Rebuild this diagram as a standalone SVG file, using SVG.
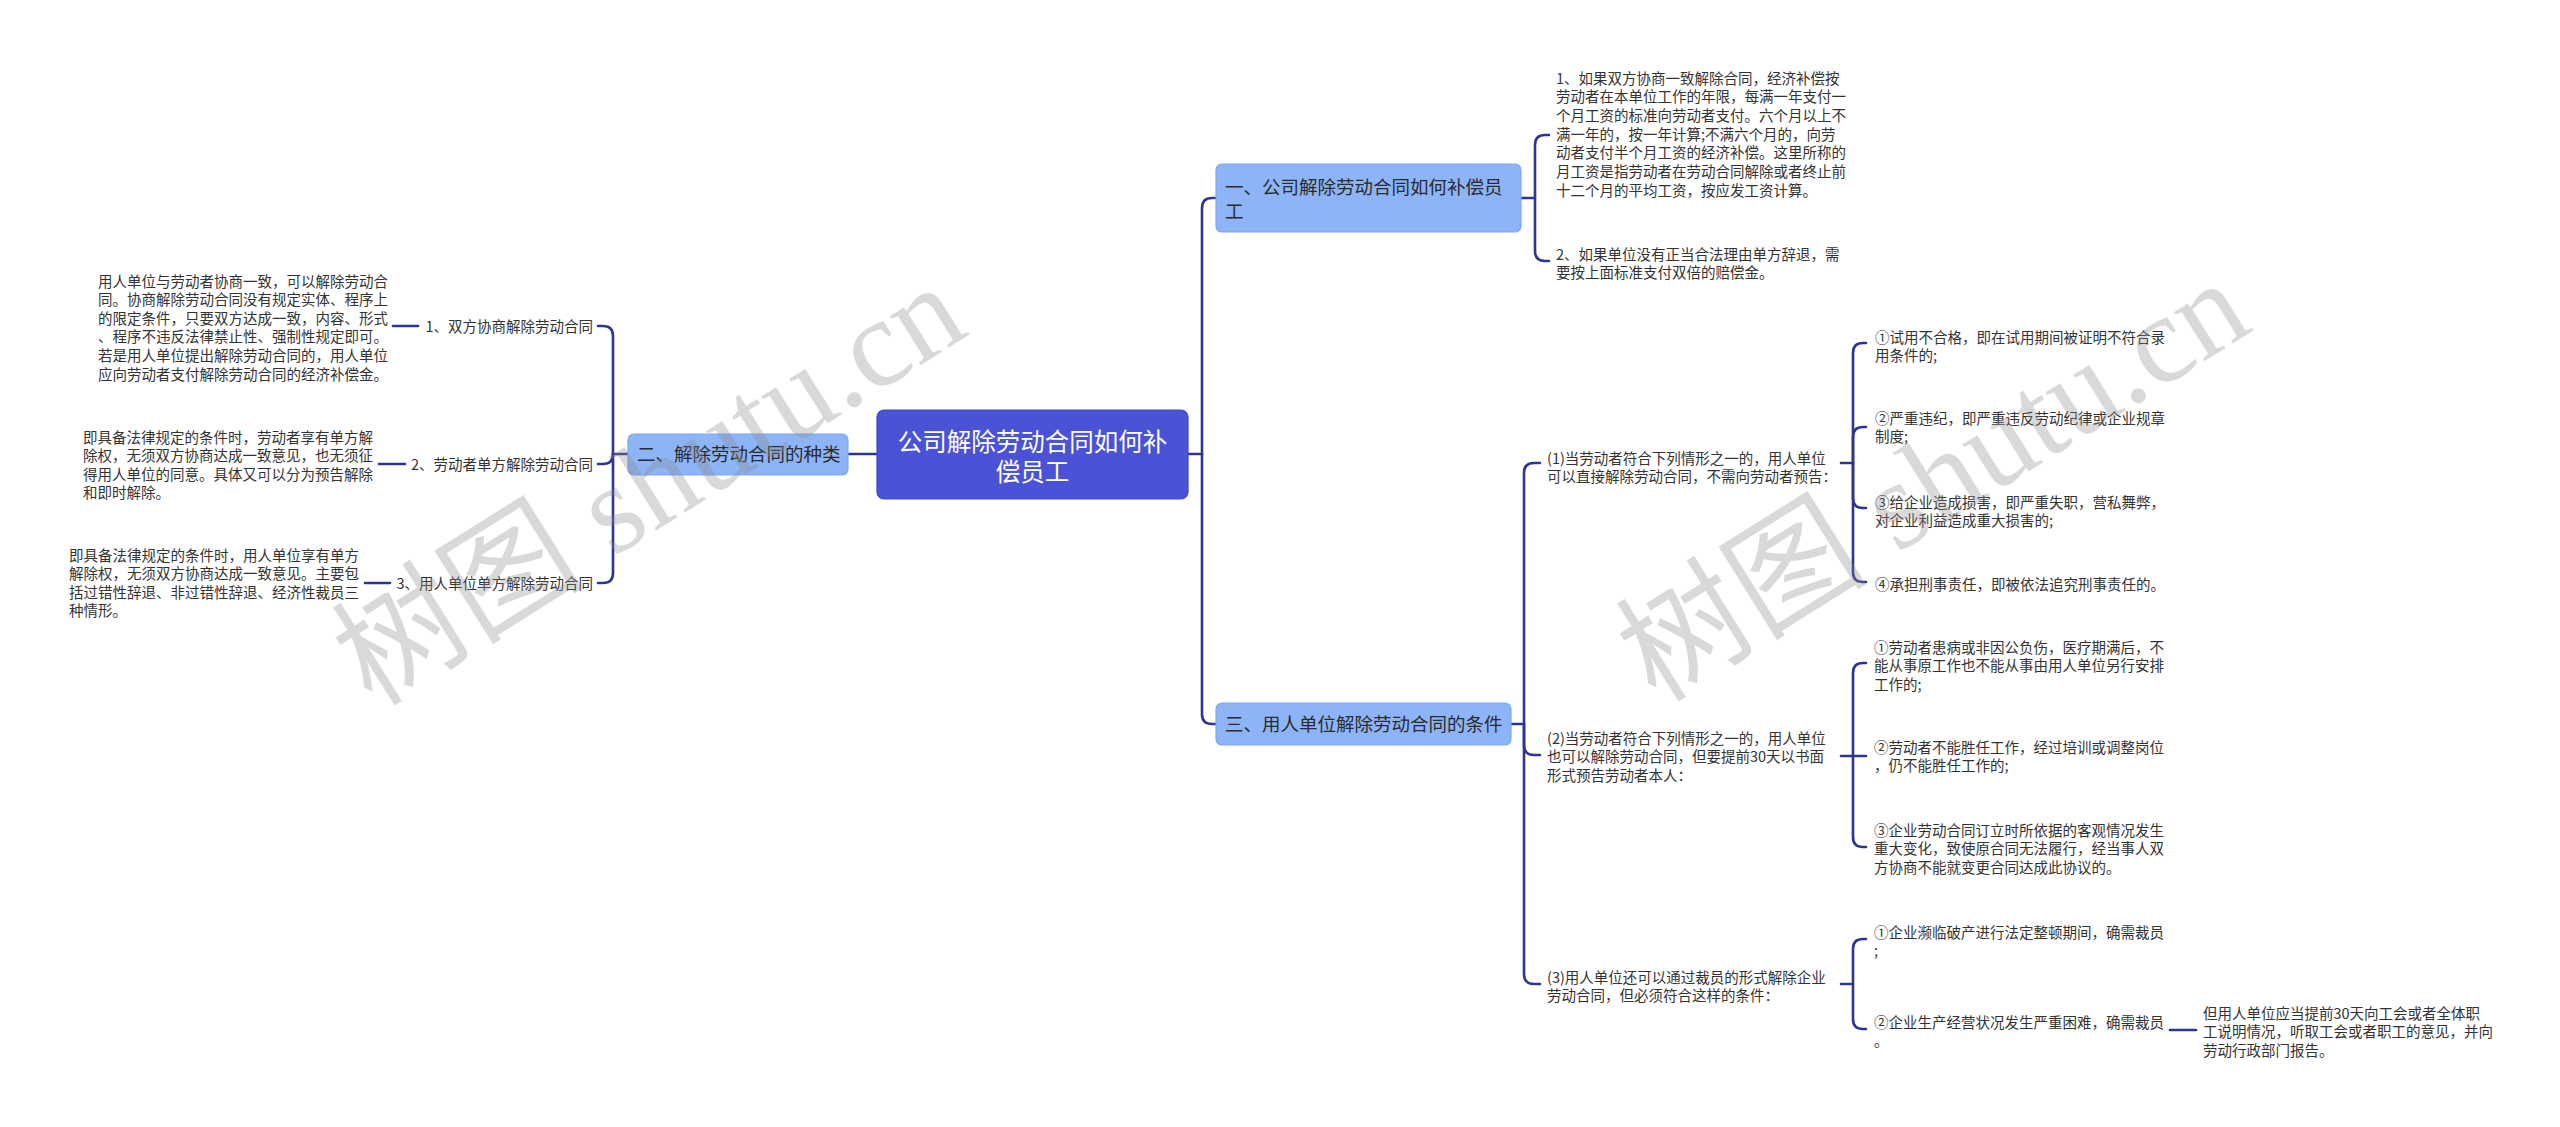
<svg xmlns="http://www.w3.org/2000/svg" width="2560" height="1127" viewBox="0 0 2560 1127">
<defs>
<style>
.bg{fill:#ffffff}
.ln{fill:none;stroke:#2e3590;stroke-width:2.6;stroke-linecap:round;stroke-linejoin:round}
.t{font-family:"Noto Sans CJK SC","Noto Sans",sans-serif;font-size:14.5px;fill:#333333}
.n1{fill:#8cb4f7;stroke:#7ea8ee;stroke-width:1.2}
.n1t{font-family:"Noto Sans CJK SC","Noto Sans",sans-serif;font-size:18.5px;fill:#2b2b2b}
.root{fill:#4a52d6;stroke:#3f47c4;stroke-width:1.2}
.roott{font-family:"Noto Sans CJK SC","Noto Sans",sans-serif;font-size:24.5px;fill:#ffffff}
.wm{font-family:"Liberation Serif","Noto Sans CJK SC",serif;font-size:126px;fill:#8c8c8c;fill-opacity:0.33}
.wmc{font-family:"Noto Sans CJK SC",sans-serif}
</style>
</defs>
<rect class="bg" x="0" y="0" width="2560" height="1127"/>

<g id="connectors">
  <path class="ln" d="M877,454 H848"/>
  <path class="ln" d="M628,454 H613 V336 Q613,326 603,326 H598"/>
  <path class="ln" d="M613,454 Q613,464 603,464 H598"/>
  <path class="ln" d="M613,454 V573 Q613,583 603,583 H598"/>
  <path class="ln" d="M418,326 H393"/>
  <path class="ln" d="M405,464 H379"/>
  <path class="ln" d="M390,583 H365"/>
  <path class="ln" d="M1188,454 H1202 V208 Q1202,198 1212,198 H1216"/>
  <path class="ln" d="M1202,454 V714 Q1202,724 1212,724 H1216"/>
  <path class="ln" d="M1521,198 H1535 V145 Q1535,135 1545,135 H1549"/>
  <path class="ln" d="M1535,198 V251 Q1535,261 1545,261 H1549"/>
  <path class="ln" d="M1511,724 H1524 V473 Q1524,463 1534,463 H1540"/>
  <path class="ln" d="M1524,724 V745 Q1524,755 1534,755 H1540"/>
  <path class="ln" d="M1524,724 V974 Q1524,984 1534,984 H1540"/>
  <path class="ln" d="M1841,463 H1853 V353 Q1853,343 1863,343 H1866"/>
  <path class="ln" d="M1853,463 V437 Q1853,427 1863,427 H1866"/>
  <path class="ln" d="M1853,463 V498 Q1853,508 1863,508 H1866"/>
  <path class="ln" d="M1853,463 V572 Q1853,582 1863,582 H1866"/>
  <path class="ln" d="M1841,756 H1866"/>
  <path class="ln" d="M1853,756 V673 Q1853,663 1863,663 H1866"/>
  <path class="ln" d="M1853,756 V837 Q1853,847 1863,847 H1866"/>
  <path class="ln" d="M1841,984 H1853 V949 Q1853,939 1863,939 H1866"/>
  <path class="ln" d="M1853,984 V1019 Q1853,1029 1863,1029 H1866"/>
  <path class="ln" d="M2170,1030 H2196"/>
</g>

<g id="root">
  <rect class="root" x="877" y="410" width="311" height="89" rx="7"/>
  <text class="roott" text-anchor="middle"><tspan x="1032.5" y="451">公司解除劳动合同如何补</tspan><tspan x="1032.5" y="481">偿员工</tspan></text>
</g>

<g id="node-2">
  <rect class="n1" x="628" y="434" width="220" height="41" rx="6"/>
  <text class="n1t" x="637" y="461">二、解除劳动合同的种类</text>
</g>
<g id="node-2-1">
  <text class="t" x="593" y="331.5" text-anchor="end">1、双方协商解除劳动合同</text>
</g>
<g id="node-2-1-1">
  <text class="t"><tspan x="98" y="286.5">用人单位与劳动者协商一致，可以解除劳动合</tspan><tspan x="98" dy="18.6">同。协商解除劳动合同没有规定实体、程序上</tspan><tspan x="98" dy="18.6">的限定条件，只要双方达成一致，内容、形式</tspan><tspan x="98" dy="18.6">、程序不违反法律禁止性、强制性规定即可。</tspan><tspan x="98" dy="18.6">若是用人单位提出解除劳动合同的，用人单位</tspan><tspan x="98" dy="18.6">应向劳动者支付解除劳动合同的经济补偿金。</tspan></text>
</g>
<g id="node-2-2">
  <text class="t" x="593" y="469.5" text-anchor="end">2、劳动者单方解除劳动合同</text>
</g>
<g id="node-2-2-1">
  <text class="t"><tspan x="83" y="442.5">即具备法律规定的条件时，劳动者享有单方解</tspan><tspan x="83" dy="18.6">除权，无须双方协商达成一致意见，也无须征</tspan><tspan x="83" dy="18.6">得用人单位的同意。具体又可以分为预告解除</tspan><tspan x="83" dy="18.6">和即时解除。</tspan></text>
</g>
<g id="node-2-3">
  <text class="t" x="593" y="588.5" text-anchor="end">3、用人单位单方解除劳动合同</text>
</g>
<g id="node-2-3-1">
  <text class="t"><tspan x="69" y="560.5">即具备法律规定的条件时，用人单位享有单方</tspan><tspan x="69" dy="18.6">解除权，无须双方协商达成一致意见。主要包</tspan><tspan x="69" dy="18.6">括过错性辞退、非过错性辞退、经济性裁员三</tspan><tspan x="69" dy="18.6">种情形。</tspan></text>
</g>

<g id="node-1">
  <rect class="n1" x="1216" y="164" width="305" height="68" rx="6"/>
  <text class="n1t"><tspan x="1225" y="194">一、公司解除劳动合同如何补偿员</tspan><tspan x="1225" y="218">工</tspan></text>
</g>
<g id="node-1-1">
  <text class="t"><tspan x="1556" y="83.5">1、如果双方协商一致解除合同，经济补偿按</tspan><tspan x="1556" dy="18.67">劳动者在本单位工作的年限，每满一年支付一</tspan><tspan x="1556" dy="18.67">个月工资的标准向劳动者支付。六个月以上不</tspan><tspan x="1556" dy="18.67">满一年的，按一年计算;不满六个月的，向劳</tspan><tspan x="1556" dy="18.67">动者支付半个月工资的经济补偿。这里所称的</tspan><tspan x="1556" dy="18.67">月工资是指劳动者在劳动合同解除或者终止前</tspan><tspan x="1556" dy="18.67">十二个月的平均工资，按应发工资计算。</tspan></text>
</g>
<g id="node-1-2">
  <text class="t"><tspan x="1556" y="259.5">2、如果单位没有正当合法理由单方辞退，需</tspan><tspan x="1556" dy="18.6">要按上面标准支付双倍的赔偿金。</tspan></text>
</g>

<g id="node-3">
  <rect class="n1" x="1216" y="703" width="295" height="42" rx="6"/>
  <text class="n1t" x="1225" y="731">三、用人单位解除劳动合同的条件</text>
</g>
<g id="node-3-1">
  <text class="t"><tspan x="1547" y="463.5">(1)当劳动者符合下列情形之一的，用人单位</tspan><tspan x="1547" dy="18.6">可以直接解除劳动合同，不需向劳动者预告：</tspan></text>
</g>
<g id="node-3-1-1">
  <text class="t"><tspan x="1875" y="342.5">①试用不合格，即在试用期间被证明不符合录</tspan><tspan x="1875" dy="18.6">用条件的;</tspan></text>
</g>
<g id="node-3-1-2">
  <text class="t"><tspan x="1875" y="423.5">②严重违纪，即严重违反劳动纪律或企业规章</tspan><tspan x="1875" dy="18.6">制度;</tspan></text>
</g>
<g id="node-3-1-3">
  <text class="t"><tspan x="1875" y="507.5">③给企业造成损害，即严重失职，营私舞弊，</tspan><tspan x="1875" dy="18.6">对企业利益造成重大损害的;</tspan></text>
</g>
<g id="node-3-1-4">
  <text class="t" x="1875" y="590">④承担刑事责任，即被依法追究刑事责任的。</text>
</g>
<g id="node-3-2">
  <text class="t"><tspan x="1547" y="743.5">(2)当劳动者符合下列情形之一的，用人单位</tspan><tspan x="1547" dy="18.6">也可以解除劳动合同，但要提前30天以书面</tspan><tspan x="1547" dy="18.6">形式预告劳动者本人：</tspan></text>
</g>
<g id="node-3-2-1">
  <text class="t"><tspan x="1874" y="652.5">①劳动者患病或非因公负伤，医疗期满后，不</tspan><tspan x="1874" dy="18.6">能从事原工作也不能从事由用人单位另行安排</tspan><tspan x="1874" dy="18.6">工作的;</tspan></text>
</g>
<g id="node-3-2-2">
  <text class="t"><tspan x="1874" y="752.5">②劳动者不能胜任工作，经过培训或调整岗位</tspan><tspan x="1874" dy="18.6">，仍不能胜任工作的;</tspan></text>
</g>
<g id="node-3-2-3">
  <text class="t"><tspan x="1874" y="835.5">③企业劳动合同订立时所依据的客观情况发生</tspan><tspan x="1874" dy="18.6">重大变化，致使原合同无法履行，经当事人双</tspan><tspan x="1874" dy="18.6">方协商不能就变更合同达成此协议的。</tspan></text>
</g>
<g id="node-3-3">
  <text class="t"><tspan x="1547" y="982.5">(3)用人单位还可以通过裁员的形式解除企业</tspan><tspan x="1547" dy="18.6">劳动合同，但必须符合这样的条件：</tspan></text>
</g>
<g id="node-3-3-1">
  <text class="t"><tspan x="1874" y="937.5">①企业濒临破产进行法定整顿期间，确需裁员</tspan><tspan x="1874" dy="18.6">;</tspan></text>
</g>
<g id="node-3-3-2">
  <text class="t"><tspan x="1874" y="1027.5">②企业生产经营状况发生严重困难，确需裁员</tspan><tspan x="1874" dy="18.6">。</tspan></text>
</g>
<g id="node-3-3-2-1">
  <text class="t"><tspan x="2203" y="1018.5">但用人单位应当提前30天向工会或者全体职</tspan><tspan x="2203" dy="18.6">工说明情况，听取工会或者职工的意见，并向</tspan><tspan x="2203" dy="18.6">劳动行政部门报告。</tspan></text>
</g>

<g id="watermark">
  <text class="wm" transform="translate(372,708) rotate(-32)"><tspan class="wmc">树图</tspan> shutu.cn</text>
  <text class="wm" transform="translate(1656,704) rotate(-32)"><tspan class="wmc">树图</tspan> shutu.cn</text>
</g>
</svg>
